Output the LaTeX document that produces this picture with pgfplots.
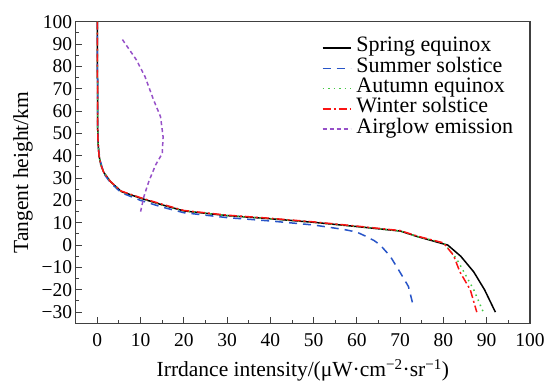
\documentclass[border=0pt]{standalone}
\usepackage{fontspec}
\setmainfont{Liberation Serif}
\usepackage{pgfplots}
\pgfplotsset{compat=1.18}
\definecolor{cblue}{RGB}{40,85,200}
\definecolor{cgreen}{RGB}{70,200,70}
\definecolor{cred}{RGB}{250,20,20}
\definecolor{cpurple}{RGB}{150,80,200}
\begin{document}
\begin{tikzpicture}
\begin{axis}[name=ax, scale only axis, width=454.3pt, height=301.6pt,
  xmin=-5, xmax=100, ymin=-35, ymax=100,
  xtick={0,10,...,100}, minor xtick={5,15,...,95},
  ytick={-30,-20,...,100}, minor ytick={-35,-25,...,95},
  xticklabels={0,10,20,30,40,50,60,70,80,90,100},
  yticklabels={−30,−20,−10,0,10,20,30,40,50,60,70,80,90,100},
  tick pos=left, tick align=inside,
  major tick length=6pt, minor tick length=3.5pt,
  axis line style={black!75, line width=1.1pt},
  tick style={black!75, line width=1pt},
  ticklabel style={font=\fontsize{19.5}{19.5}\selectfont},
  xticklabel style={yshift=-7pt},
  /pgf/number format/assume math mode=true,
  xlabel={Irrdance intensity/(μW·cm\textsuperscript{−2}·sr\textsuperscript{−1})},
  ylabel={Tangent height/km},
  label style={font=\fontsize{21.5}{21.5}\selectfont},
  xlabel style={at={(axis description cs:0.5,0)}, anchor=center, yshift=-47pt},
  ylabel style={at={(axis description cs:0,0.5)}, anchor=center, rotate=0, yshift=52.7pt},
  legend style={draw=none, fill=none, font=\fontsize{22}{22}\selectfont,
    at={(axis description cs:0.5415,1)}, anchor=north west, yshift=-16pt,
    inner sep=0pt, row sep=0pt,
    nodes={inner ysep=0pt, inner xsep=5pt, text height=14pt, text depth=6.3pt}},
  legend cell align=left,
  legend image code/.code={\draw[#1, line width=1.5pt] (0pt,0pt) -- (28pt,0pt);},
  every axis plot/.append style={line width=1.5pt},
]
\addplot[black] coordinates {(0,100) (0,90) (0.05,70) (0.1,50) (0.2,45) (0.4,40) (0.8,36) (1.5,32.5) (3,28.5) (5.5,24) (10,21) (15,18) (20,15.3) (30,13.2) (40,11.8) (50,10.2) (60,8.3) (70,6.3) (74,3.8) (81,0) (84,-5) (87,-12) (89.5,-20) (92,-30)};
\addlegendentry{Spring equinox}
\addplot[cblue, dash pattern=on 8pt off 6pt] coordinates {(0,100) (0,90) (0.05,70) (0.1,50) (0.3,42) (0.8,37) (1.5,32) (3,28) (5.5,23.5) (10,20) (15,17) (20,14.5) (30,12.3) (40,10.8) (50,9) (57,7) (60,5.8) (62,4) (64,2) (65.4,0) (67.7,-5) (69.6,-11) (71.9,-18.5) (73,-27)};
\addlegendentry{Summer solstice}
\addplot[cgreen, dash pattern=on 1.5pt off 4pt] coordinates {(0,100) (0,90) (0.05,70) (0.1,50) (0.2,45) (0.4,40) (0.8,36) (1.5,32.5) (3,28.5) (5.5,24) (10,21) (15,18) (20,15.3) (30,13.2) (40,11.8) (50,10.2) (60,8.3) (70,6.3) (74,3.8) (80,1) (83,-6) (85,-13) (87,-20) (89.2,-30)};
\addlegendentry{Autumn equinox}
\addplot[cred, dash pattern=on 8pt off 3pt on 2pt off 3pt] coordinates {(0,100) (0,90) (0.05,70) (0.1,50) (0.2,45) (0.4,40) (0.8,36) (1.5,32.5) (3,28.5) (5.5,24.2) (10,21.2) (15,18.3) (20,15.5) (30,13.4) (40,12) (50,10.4) (60,8.5) (70,6.5) (74,4) (80,1) (82.3,-4.5) (83.8,-12) (86.2,-20) (87.7,-30)};
\addlegendentry{Winter solstice}
\addplot[cpurple, dash pattern=on 4pt off 3pt] coordinates {(5.8,92) (9,83) (11,75.5) (13,65) (14.6,57.5) (15.2,48.5) (15,41) (13.5,36) (12,29) (10.8,22) (10,15)};
\addlegendentry{Airglow emission}
\end{axis}
\pgfresetboundingbox
\path (ax.south west) ++(-75.7pt,-59.7pt) coordinate (bl);
\path (ax.north east) ++(15pt,21.7pt) coordinate (tr);
\path[use as bounding box] (bl) rectangle (tr);
\end{tikzpicture}
\end{document}
